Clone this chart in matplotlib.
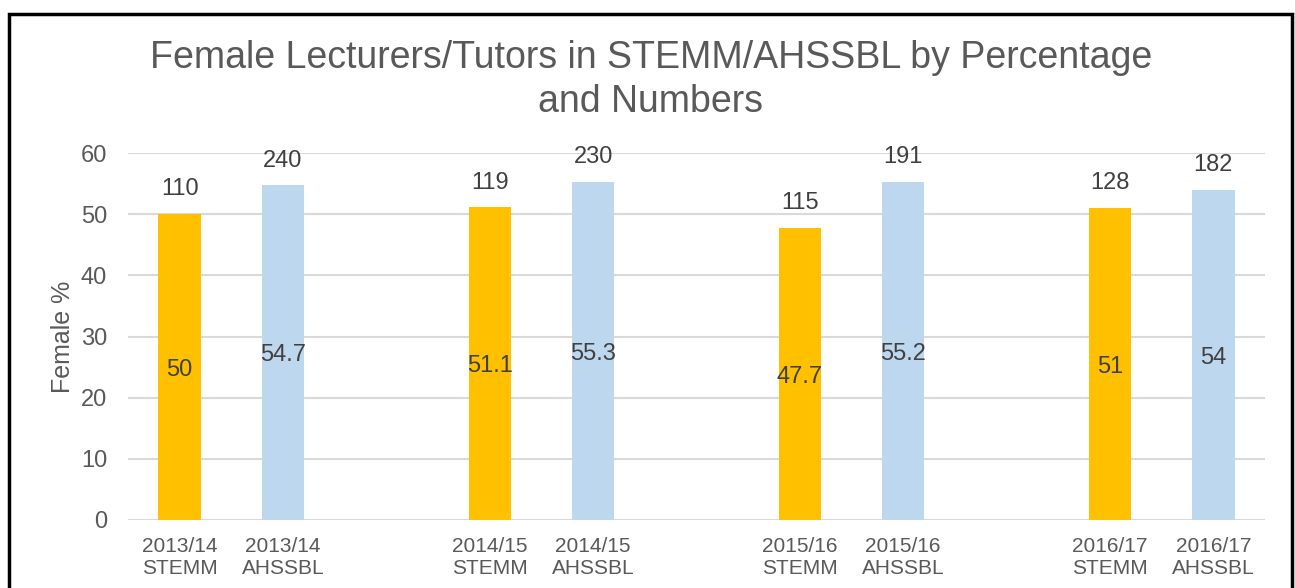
import matplotlib.pyplot as plt
from matplotlib.patches import Rectangle

# data
years = ["2013/14", "2014/15", "2015/16", "2016/17"]
groups = ["STEMM", "AHSSBL"]
stemm_pct = [50, 51.1, 47.7, 51]
ahssbl_pct = [54.7, 55.3, 55.2, 54]
stemm_num = [110, 119, 115, 128]
ahssbl_num = [240, 230, 191, 182]

plt.rcParams['font.family'] = ['Liberation Sans', 'DejaVu Sans']
text_col = "#595959"

fig = plt.figure(figsize=(12.95, 5.88), dpi=100)
ax = fig.add_axes([128 / 1295, 1 - 520 / 588, (1265 - 128) / 1295, (520 - 153) / 588])

# border around the chart (bottom edge falls outside the picture)
fig.patches.append(Rectangle((9 / 1295, -0.05), (1292 - 9) / 1295, 1.05 - 14 / 588,
                             transform=fig.transFigure, fill=False,
                             edgecolor="black", linewidth=2.5))

pos, vals, nums, cols, labels = [], [], [], [], []
for i, yr in enumerate(years):
    for j, g in enumerate(groups):
        pos.append(i * 3 + j)
        vals.append(stemm_pct[i] if j == 0 else ahssbl_pct[i])
        nums.append(stemm_num[i] if j == 0 else ahssbl_num[i])
        cols.append("#FFC000" if j == 0 else "#BDD7EE")
        labels.append(f"{yr}\n{g}")

bars = ax.bar(pos, vals, width=0.41, color=cols, zorder=2)

for b, v, n in zip(bars, vals, nums):
    x = b.get_x() + b.get_width() / 2
    ax.annotate(f"{v:g}", (x, v / 2), xytext=(0, -2), textcoords="offset points",
                ha="center", va="center", fontsize=17, color="#404040", zorder=3)
    ax.annotate(str(n), (x, v), xytext=(0, 10), textcoords="offset points",
                ha="center", va="bottom", fontsize=17, color="#404040")

ax.set_xlim(-0.5, 10.5)
ax.set_ylim(0, 60)
ax.set_yticks(range(0, 61, 10))
ax.set_xticks(pos)
ax.set_xticklabels(labels, fontsize=15, color=text_col, linespacing=1.2)
ax.tick_params(axis="y", labelsize=17, colors=text_col, length=0, pad=15)
ax.tick_params(axis="x", length=0, pad=12)
ax.yaxis.grid(True, color="#d9d9d9", linewidth=1.5, zorder=0)
for s in ax.spines.values():
    s.set_visible(False)
ax.set_ylabel("Female %", fontsize=18, color=text_col, labelpad=4)

fig.text(651 / 1295, 1 - 80 / 588, "Female Lecturers/Tutors in STEMM/AHSSBL by Percentage\nand Numbers",
         ha="center", va="center", fontsize=27, color=text_col, linespacing=1.3)

fig.savefig("out.png", dpi=100)
